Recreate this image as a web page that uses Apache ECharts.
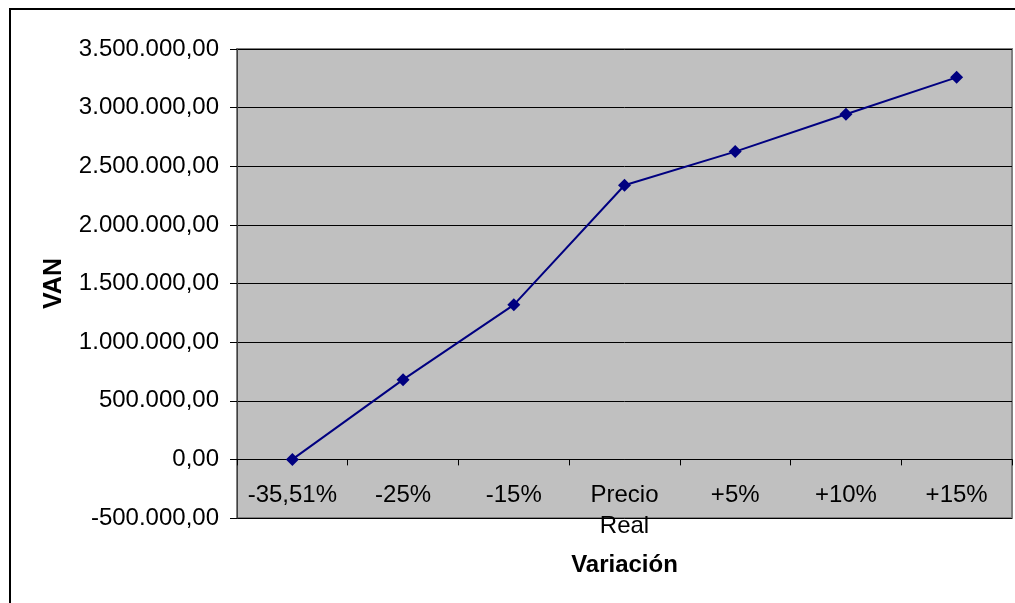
<!DOCTYPE html>
<html>
<head>
<meta charset="utf-8">
<script src="https://cdn.jsdelivr.net/npm/echarts@6/dist/echarts.min.js"></script>
<style>
html,body{margin:0;padding:0;background:#fff;}
#chart{width:1015px;height:603px;}
</style>
</head>
<body>
<div id="chart"></div>
<script>
const categories = ['-35,51%', '-25%', '-15%', 'Precio Real', '+5%', '+10%', '+15%'];
const vanValues = [0, 680000, 1318000, 2338000, 2625000, 2943000, 3258000];
const xTitle = 'Variación';
const yTitle = 'VAN';

function fmtEs(v) {
  const neg = v < 0;
  const s = Math.abs(Math.round(v)).toString().replace(/\B(?=(\d{3})+(?!\d))/g, '.');
  return (neg ? '-' : '') + s + ',00';
}

const chart = echarts.init(document.getElementById('chart'), null, {renderer: 'canvas'});
const font = 'Liberation Sans, Arial, sans-serif';
chart.setOption({
  backgroundColor: '#ffffff',
  animation: false,
  graphic: [{
    type: 'rect',
    shape: {x: 10, y: 9, width: 1030, height: 620},
    style: {fill: 'none', stroke: '#000', lineWidth: 2},
    silent: true, z: 100
  }],
  grid: {
    left: 237, right: 3, top: 49, bottom: 85,
    containLabel: false, outerBoundsMode: 'none',
    show: true, backgroundColor: '#C0C0C0', borderColor: '#808080', borderWidth: 2
  },
  xAxis: {
    type: 'category',
    data: categories,
    boundaryGap: true,
    name: xTitle,
    nameLocation: 'middle',
    nameGap: 35,
    nameMoveOverlap: false,
    nameTextStyle: {fontFamily: font, fontSize: 24, fontWeight: 'bold', color: '#000'},
    axisLine: {onZero: true, lineStyle: {color: '#000', width: 1}},
    axisTick: {show: true, alignWithLabel: false, length: 6, lineStyle: {color: '#000'}},
    axisLabel: {
      fontFamily: font, fontSize: 24, color: '#000', margin: -38, lineHeight: 31,
      interval: 0,
      formatter: v => v.replace(' ', '\n')
    },
    splitLine: {show: false}
  },
  yAxis: {
    type: 'value',
    min: -500000, max: 3500000, interval: 500000,
    name: yTitle,
    nameLocation: 'middle',
    nameGap: 170,
    nameMoveOverlap: false,
    nameTextStyle: {fontFamily: font, fontSize: 25, fontWeight: 'bold', color: '#000'},
    axisLine: {show: true, lineStyle: {color: '#404040', width: 1}},
    axisTick: {show: true, length: 7, lineStyle: {color: '#000'}},
    axisLabel: {fontFamily: font, fontSize: 24, color: '#000', margin: 18, formatter: fmtEs},
    splitLine: {show: true, lineStyle: {color: '#000', width: 1}}
  },
  series: [{
    type: 'line',
    data: vanValues,
    symbol: 'diamond',
    symbolSize: 13,
    lineStyle: {color: '#000080', width: 2},
    itemStyle: {color: '#000080'},
    z: 5
  }]
});
</script>
</body>
</html>
